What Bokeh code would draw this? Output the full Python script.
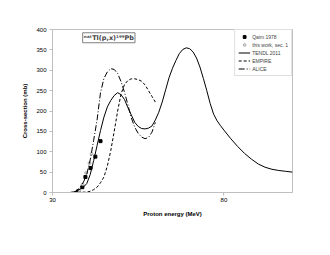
from bokeh.plotting import figure
from bokeh.models import Label, Legend, LegendItem, FixedTicker, Range1d
from bokeh.embed import file_html
from bokeh.resources import INLINE

# TENDL 2011
tendl_e = [30, 35, 36, 37, 38, 39, 40, 41, 42, 43, 44, 45, 46, 47, 48, 49, 50, 51, 52, 53, 54, 55, 56, 57, 58,
           59, 60, 61, 62, 63, 64, 65, 66, 67, 68, 69, 70, 71, 72, 73, 74, 75, 76, 77, 78, 79, 80, 82, 84, 86,
           88, 90, 92, 94, 96, 98, 100]
tendl_v = [0, 0, 1, 3, 8, 13, 22, 44, 78, 115, 152, 185, 210, 226, 238, 245, 240, 228, 208, 190, 172, 162, 157,
           156, 158, 163, 178, 197, 222, 252, 282, 305, 324, 341, 351, 355, 353, 345, 330, 308, 280, 250, 218,
           192, 176, 164, 153, 132, 113, 96, 82, 70, 62, 57, 54, 52, 50]

# EMPIRE
empire_e = [30, 35, 40, 41, 42, 43, 44, 45, 46, 47, 48, 49, 50, 51, 52, 53, 54, 55, 56, 57, 58, 59, 60]
empire_v = [0, 0, 1, 3, 7, 13, 24, 38, 65, 103, 150, 200, 242, 265, 275, 279, 279, 277, 273, 264, 250, 236, 222]

# ALICE
alice_e = [30, 35, 36, 37, 38, 39, 40, 41, 42, 43, 44, 45, 46, 47, 48, 49, 50, 51, 52, 53, 54, 55, 56, 57, 58,
           59, 60]
alice_v = [0, 0, 1, 4, 12, 25, 45, 80, 128, 178, 245, 280, 296, 304, 302, 292, 272, 246, 215, 183, 160, 145,
           136, 132, 135, 148, 172]

# Qaim 1978
qaim_e = [37.5, 38.7, 39.6, 41.1, 42.5, 44.0]
qaim_v = [3, 13, 38, 60, 88, 126]

# this work, sec. 1
work_e = [37.8, 38.8, 39.8, 40.8, 41.4]
work_v = [4, 20, 48, 72, 95]

x_ticks = [30, 80]
y_ticks = [0, 50, 100, 150, 200, 250, 300, 350, 400]

FONT = "Liberation Sans"
GRAY = "#bfbfbf"

p = figure(width=322, height=247, output_backend="svg", toolbar_location=None,
           x_range=Range1d(30, 100), y_range=Range1d(0, 400),
           min_border_left=52, min_border_right=30, min_border_top=29, min_border_bottom=55)
p.background_fill_color = "white"
p.border_fill_color = "white"
p.outline_line_color = GRAY
p.outline_line_width = 1
p.xgrid.visible = False
p.ygrid.visible = False

for ax in (p.xaxis[0], p.yaxis[0]):
    ax.axis_line_color = GRAY
    ax.major_tick_line_color = GRAY
    ax.minor_tick_line_color = None
    ax.major_tick_in = 0
    ax.major_tick_out = 3
    ax.major_label_text_font = FONT
    ax.major_label_text_font_size = "6px"
    ax.major_label_text_color = "black"
    ax.axis_label_text_font = FONT
    ax.axis_label_text_font_size = "6px"
    ax.axis_label_text_font_style = "bold"
    ax.axis_label_text_color = "black"

p.xaxis.ticker = FixedTicker(ticks=x_ticks)
p.yaxis.ticker = FixedTicker(ticks=y_ticks)
p.xaxis.axis_label = "Proton energy (MeV)"
p.yaxis.axis_label = "Cross-section (mb)"
p.xaxis.major_label_standoff = 2
p.yaxis.major_label_standoff = 3
p.xaxis.axis_label_standoff = 6
p.yaxis.axis_label_standoff = 5

r_q = p.scatter(qaim_e, qaim_v, marker="square", size=3, color="black")
r_w = p.scatter(work_e, work_v, marker="circle", size=3, fill_color="#d9d9d9", line_color="#808080",
                line_width=0.5)
r_t = p.line(tendl_e, tendl_v, line_color="black", line_width=1)
r_e = p.line(empire_e, empire_v, line_color="black", line_width=1, line_dash="3 2")
r_a = p.line(alice_e, alice_v, line_color="black", line_width=1, line_dash="6 2 1 2")

legend = Legend(items=[
    LegendItem(label="Qaim 1978", renderers=[r_q]),
    LegendItem(label="this work, sec. 1", renderers=[r_w]),
    LegendItem(label="TENDL 2011", renderers=[r_t]),
    LegendItem(label="EMPIRE", renderers=[r_e]),
    LegendItem(label="ALICE", renderers=[r_a]),
], location="top_right")
legend.margin = 0
legend.padding = 3
legend.spacing = 1
legend.glyph_width = 12
legend.glyph_height = 7
legend.label_height = 7
legend.label_standoff = 2
legend.label_text_font = FONT
legend.label_text_font_size = "5px"
legend.border_line_color = GRAY
legend.border_line_width = 1
legend.background_fill_alpha = 1
p.add_layout(legend)

title = Label(x=38.8, y=392, text="\u207f\u1d43\u1d57Tl(p,x)\u00b9\u2079\u2079Pb",
              text_font="DejaVu Sans", text_font_size="6.5px", text_font_style="bold",
              text_align="left", text_baseline="top",
              border_line_color="#808080", border_line_width=1,
              background_fill_color="white", padding=1)
p.add_layout(title)

open("out.html", "w").write(file_html(p, INLINE))
